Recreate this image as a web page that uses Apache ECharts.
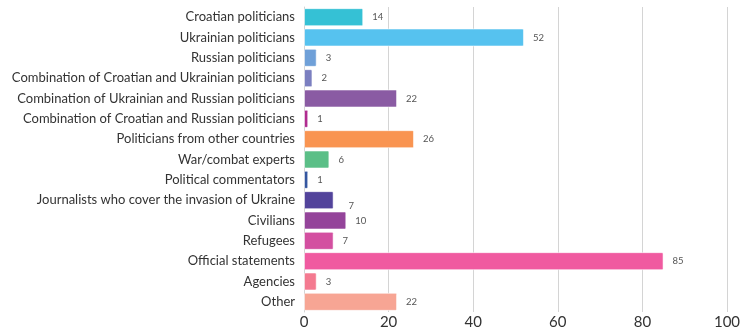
<!DOCTYPE html>
<html>
<head>
<meta charset="utf-8">
<script src="https://cdn.jsdelivr.net/npm/echarts@6/dist/echarts.min.js"></script>
<style>
  html, body { margin: 0; padding: 0; background: #fff; }
  #chart { width: 746px; height: 328px; }
</style>
</head>
<body>
<div id="chart"></div>
<script>
// Source categories, top to bottom
const categories = [
  'Croatian politicians',
  'Ukrainian politicians',
  'Russian politicians',
  'Combination of Croatian and Ukrainian politicians',
  'Combination of Ukrainian and Russian politicians',
  'Combination of Croatian and Russian politicians',
  'Politicians from other countries',
  'War/combat experts',
  'Political commentators',
  'Journalists who cover the invasion of Ukraine',
  'Civilians',
  'Refugees',
  'Official statements',
  'Agencies',
  'Other'
];

// Number of appearances per source
const counts = [14, 52, 3, 2, 22, 1, 26, 6, 1, 7, 10, 7, 85, 3, 22];

// One colour per bar
const barColors = [
  '#35C1D5', '#56C2EF', '#6FA0D8', '#7B7FC0', '#8A5BA3',
  '#B02B8F', '#F99451', '#5BBF87', '#3456A0', '#52439B',
  '#94449A', '#D34FA0', '#F05AA0', '#F47A90', '#F7A594'
];

// Value axis ticks
const xTicks = [0, 20, 40, 60, 80, 100];

const chart = echarts.init(document.getElementById('chart'), null, { renderer: 'canvas' });

const fontFamily = 'Lato, "Open Sans", sans-serif';

chart.setOption({
  animation: false,
  grid: {
    left: 304, right: 19, top: 7, bottom: 16,
    containLabel: false,
    outerBoundsMode: 'none'
  },
  xAxis: {
    type: 'value',
    min: xTicks[0],
    max: xTicks[xTicks.length - 1],
    interval: 20,
    axisLine: { show: false },
    axisTick: { show: false },
    splitLine: { show: true, lineStyle: { color: '#d4d4d4', width: 1 } },
    axisLabel: { color: '#333', fontSize: 15, fontFamily: fontFamily, margin: 3 }
  },
  yAxis: {
    type: 'category',
    inverse: true,
    data: categories,
    axisLine: { show: true, lineStyle: { color: '#d4d4d4' } },
    axisTick: { show: false },
    axisLabel: { color: '#333', fontSize: 13, fontFamily: fontFamily, margin: 9 }
  },
  series: [{
    type: 'bar',
    barWidth: 18,
    data: counts.map((v, i) => {
      const item = { value: v, itemStyle: { color: barColors[i] } };
      // the journalists' count sits a little below and right of its bar
      if (i === 9) item.label = { offset: [6, 6] };
      return item;
    }),
    itemStyle: {
      borderColor: 'rgba(255,255,255,0.55)',
      borderWidth: 1,
      borderRadius: 1
    },
    label: {
      show: true,
      position: 'right',
      distance: 9,
      color: '#555',
      fontSize: 9.5,
      fontFamily: fontFamily
    }
  }]
});
</script>
</body>
</html>
